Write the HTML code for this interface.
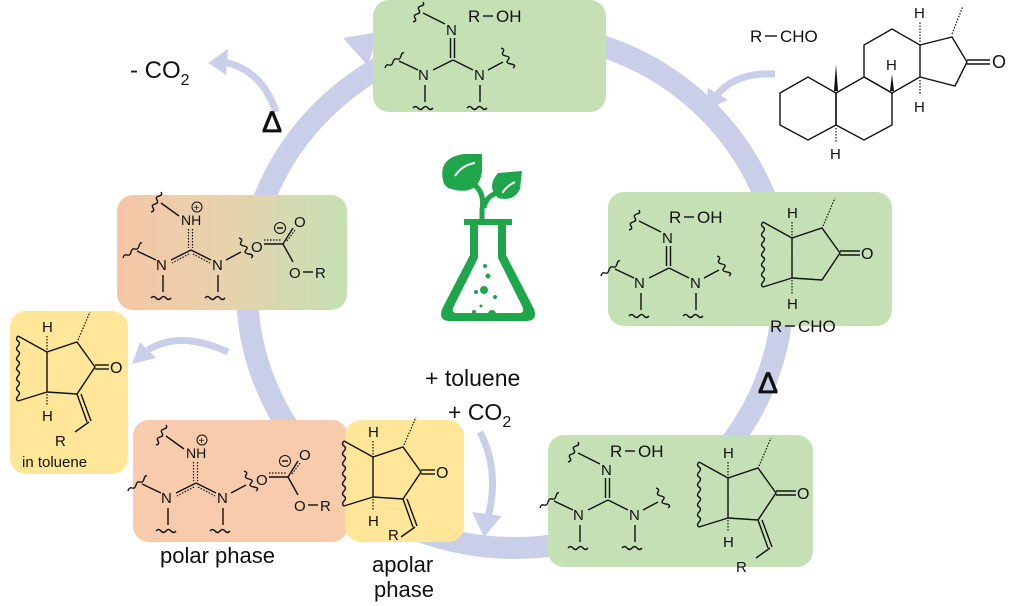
<!DOCTYPE html>
<html><head><meta charset="utf-8"><style>
html,body{margin:0;padding:0;background:#fff;width:1024px;height:606px;overflow:hidden}
svg{display:block}
.t{font-family:"Liberation Sans",sans-serif;fill:#111}
.b{stroke:#111;stroke-width:1.4;fill:none}
.h{stroke:#111;stroke-width:1.2;fill:none;stroke-dasharray:1.5 1.5}
</style></head><body>
<svg width="1024" height="606" viewBox="0 0 1024 606" xmlns="http://www.w3.org/2000/svg">
<defs>
<linearGradient id="og" x1="0" x2="1" y1="0" y2="0">
<stop offset="0" stop-color="#f5c6a6"/><stop offset="0.5" stop-color="#e6d3ad"/><stop offset="1" stop-color="#c5e0b4"/>
</linearGradient>
</defs>
<!-- ring -->
<ellipse cx="515" cy="290" rx="268" ry="258" fill="none" stroke="#c9cfe8" stroke-width="22"/>
<polygon points="343,38 378,32 368,66" fill="#c9cfe8"/>

<!-- small arrows -->
<path d="M276,112 Q262,70 224,62" fill="none" stroke="#c9cfe8" stroke-width="7"/>
<polygon points="208,63 228,49 226,75" fill="#c9cfe8"/>
<path d="M775,74 Q735,72 716,96" fill="none" stroke="#c9cfe8" stroke-width="7"/>
<polygon points="706,110 708,88 728,100" fill="#c9cfe8"/>
<path d="M228,352 Q180,330 148,350" fill="none" stroke="#c9cfe8" stroke-width="7"/>
<polygon points="132,364 140,342 156,358" fill="#c9cfe8"/>
<path d="M480,432 Q500,470 488,518" fill="none" stroke="#c9cfe8" stroke-width="7"/>
<polygon points="484,537 472,512 502,516" fill="#c9cfe8"/>

<!-- boxes -->
<rect x="373" y="0" width="233" height="112" rx="16" fill="#c5e0b4"/>
<rect x="608" y="192" width="284" height="134" rx="16" fill="#c5e0b4"/>
<rect x="548" y="435" width="265" height="132" rx="16" fill="#c5e0b4"/>
<rect x="117" y="195" width="230" height="115" rx="16" fill="url(#og)"/>
<rect x="10" y="311" width="118" height="163" rx="16" fill="#ffe699"/>
<rect x="133" y="420" width="215" height="122" rx="16" fill="#f8cbad"/>
<rect x="345" y="420" width="119" height="122" rx="16" fill="#ffe699"/>

<!-- neutral guanidine: top box -->
<g transform="translate(373,0)">
<text class="t" x="95" y="22" font-size="17">R</text><line class="b" x1="110" y1="16" x2="120" y2="16"/><text class="t" x="123" y="22" font-size="17">OH</text>
<path class="b" d="M40,22 q4,-1 2,-4 t2,-4 t2,-4 t2,-4 t2,-4"/><line class="b" x1="50" y1="13" x2="72" y2="24"/>
<text class="t" x="73" y="35" font-size="15">N</text>
<line class="b" x1="77.5" y1="38" x2="77.5" y2="58"/><line class="b" x1="81.5" y1="38" x2="81.5" y2="58"/>
<line class="b" x1="80" y1="60" x2="60" y2="70"/><line class="b" x1="80" y1="60" x2="100" y2="70"/>
<text class="t" x="45" y="80" font-size="15">N</text><text class="t" x="101" y="80" font-size="15">N</text>
<line class="b" x1="45" y1="70" x2="26" y2="61"/><path class="b" d="M12,68 q1,-4 4,-3 t4,-3 t4,-3 t4,-3 t3,-3"/>
<line class="b" x1="115" y1="70" x2="130" y2="62"/><path class="b" d="M128,48 q4,1 2,4 t3,4 t2,4 t3,4 t2,4"/>
<line class="b" x1="52" y1="85" x2="52" y2="102"/><line class="b" x1="107" y1="85" x2="107" y2="102"/>
<path class="b" d="M40,108 q2.5,-3 5,0 t5,0 t5,0 t5,0"/><path class="b" d="M94,108 q2.5,-3 5,0 t5,0 t5,0 t5,0"/>
</g>
<!-- right box -->
<g transform="translate(589,208)">
<text class="t" x="80" y="15" font-size="17">R</text><line class="b" x1="95" y1="9" x2="105" y2="9"/><text class="t" x="108" y="15" font-size="17">OH</text>
<path class="b" d="M40,22 q4,-1 2,-4 t2,-4 t2,-4 t2,-4 t2,-4"/><line class="b" x1="50" y1="13" x2="72" y2="24"/>
<text class="t" x="73" y="35" font-size="15">N</text>
<line class="b" x1="77.5" y1="38" x2="77.5" y2="58"/><line class="b" x1="81.5" y1="38" x2="81.5" y2="58"/>
<line class="b" x1="80" y1="60" x2="60" y2="70"/><line class="b" x1="80" y1="60" x2="100" y2="70"/>
<text class="t" x="45" y="80" font-size="15">N</text><text class="t" x="101" y="80" font-size="15">N</text>
<line class="b" x1="45" y1="70" x2="26" y2="61"/><path class="b" d="M12,68 q1,-4 4,-3 t4,-3 t4,-3 t4,-3 t3,-3"/>
<line class="b" x1="115" y1="70" x2="130" y2="62"/><path class="b" d="M128,48 q4,1 2,4 t3,4 t2,4 t3,4 t2,4"/>
<line class="b" x1="52" y1="85" x2="52" y2="102"/><line class="b" x1="107" y1="85" x2="107" y2="102"/>
<path class="b" d="M40,108 q2.5,-3 5,0 t5,0 t5,0 t5,0"/><path class="b" d="M94,108 q2.5,-3 5,0 t5,0 t5,0 t5,0"/>
</g>
<!-- bottom right box -->
<g transform="translate(528,440)">
<text class="t" x="82" y="17" font-size="17">R</text><line class="b" x1="97" y1="11" x2="107" y2="11"/><text class="t" x="110" y="17" font-size="17">OH</text>
<path class="b" d="M40,22 q4,-1 2,-4 t2,-4 t2,-4 t2,-4 t2,-4"/><line class="b" x1="50" y1="13" x2="72" y2="24"/>
<text class="t" x="73" y="35" font-size="15">N</text>
<line class="b" x1="77.5" y1="38" x2="77.5" y2="58"/><line class="b" x1="81.5" y1="38" x2="81.5" y2="58"/>
<line class="b" x1="80" y1="60" x2="60" y2="70"/><line class="b" x1="80" y1="60" x2="100" y2="70"/>
<text class="t" x="45" y="80" font-size="15">N</text><text class="t" x="101" y="80" font-size="15">N</text>
<line class="b" x1="45" y1="70" x2="26" y2="61"/><path class="b" d="M12,68 q1,-4 4,-3 t4,-3 t4,-3 t4,-3 t3,-3"/>
<line class="b" x1="115" y1="70" x2="130" y2="62"/><path class="b" d="M128,48 q4,1 2,4 t3,4 t2,4 t3,4 t2,4"/>
<line class="b" x1="52" y1="85" x2="52" y2="102"/><line class="b" x1="107" y1="85" x2="107" y2="102"/>
<path class="b" d="M40,108 q2.5,-3 5,0 t5,0 t5,0 t5,0"/><path class="b" d="M94,108 q2.5,-3 5,0 t5,0 t5,0 t5,0"/>
</g>

<!-- charged guanidinium + carbonate (gradient box) -->
<g transform="translate(111,190)">
<circle cx="86" cy="17" r="5" fill="none" stroke="#111" stroke-width="1"/><text class="t" x="82.5" y="21" font-size="10">+</text>
<path class="b" d="M40,22 q4,-1 2,-4 t2,-4 t2,-4 t2,-4 t2,-4"/><line class="b" x1="50" y1="13" x2="68" y2="26"/>
<text class="t" x="70" y="35" font-size="14">NH</text>
<line class="h" x1="77.5" y1="39" x2="77.5" y2="58"/><line class="h" x1="81.5" y1="39" x2="81.5" y2="58"/>
<line class="b" x1="80" y1="60" x2="60" y2="70"/><line class="b" x1="80" y1="60" x2="100" y2="70"/>
<line class="h" x1="78" y1="64" x2="61" y2="73"/><line class="h" x1="82" y1="64" x2="99" y2="73"/>
<text class="t" x="45" y="80" font-size="15">N</text><text class="t" x="101" y="80" font-size="15">N</text>
<line class="b" x1="45" y1="70" x2="26" y2="61"/><path class="b" d="M12,68 q1,-4 4,-3 t4,-3 t4,-3 t4,-3 t3,-3"/>
<line class="b" x1="115" y1="70" x2="130" y2="62"/><path class="b" d="M128,48 q4,1 2,4 t3,4 t2,4 t3,4 t2,4"/>
<line class="b" x1="52" y1="85" x2="52" y2="102"/><line class="b" x1="107" y1="85" x2="107" y2="102"/>
<path class="b" d="M40,108 q2.5,-3 5,0 t5,0 t5,0 t5,0"/><path class="b" d="M94,108 q2.5,-3 5,0 t5,0 t5,0 t5,0"/>
<text class="t" x="140" y="62" font-size="15">O</text>
<line class="b" x1="153" y1="54" x2="172" y2="54"/><line class="h" x1="153" y1="50" x2="170" y2="50"/>
<line class="b" x1="172" y1="54" x2="182" y2="38"/><line class="h" x1="176" y1="51" x2="184" y2="40"/>
<text class="t" x="183" y="37" font-size="15">O</text>
<circle cx="169" cy="38" r="5.5" fill="none" stroke="#111" stroke-width="1"/><line class="b" x1="166" y1="38" x2="172" y2="38"/>
<line class="b" x1="172" y1="54" x2="182" y2="72"/>
<text class="t" x="178" y="88" font-size="15">O</text><line class="b" x1="192" y1="82" x2="202" y2="82"/><text class="t" x="204" y="88" font-size="15">R</text>
</g>
<!-- bottom orange -->
<g transform="translate(116,423)">
<circle cx="86" cy="17" r="5" fill="none" stroke="#111" stroke-width="1"/><text class="t" x="82.5" y="21" font-size="10">+</text>
<path class="b" d="M40,22 q4,-1 2,-4 t2,-4 t2,-4 t2,-4 t2,-4"/><line class="b" x1="50" y1="13" x2="68" y2="26"/>
<text class="t" x="70" y="35" font-size="14">NH</text>
<line class="h" x1="77.5" y1="39" x2="77.5" y2="58"/><line class="h" x1="81.5" y1="39" x2="81.5" y2="58"/>
<line class="b" x1="80" y1="60" x2="60" y2="70"/><line class="b" x1="80" y1="60" x2="100" y2="70"/>
<line class="h" x1="78" y1="64" x2="61" y2="73"/><line class="h" x1="82" y1="64" x2="99" y2="73"/>
<text class="t" x="45" y="80" font-size="15">N</text><text class="t" x="101" y="80" font-size="15">N</text>
<line class="b" x1="45" y1="70" x2="26" y2="61"/><path class="b" d="M12,68 q1,-4 4,-3 t4,-3 t4,-3 t4,-3 t3,-3"/>
<line class="b" x1="115" y1="70" x2="130" y2="62"/><path class="b" d="M128,48 q4,1 2,4 t3,4 t2,4 t3,4 t2,4"/>
<line class="b" x1="52" y1="85" x2="52" y2="102"/><line class="b" x1="107" y1="85" x2="107" y2="102"/>
<path class="b" d="M40,108 q2.5,-3 5,0 t5,0 t5,0 t5,0"/><path class="b" d="M94,108 q2.5,-3 5,0 t5,0 t5,0 t5,0"/>
<text class="t" x="140" y="62" font-size="15">O</text>
<line class="b" x1="153" y1="54" x2="172" y2="54"/><line class="h" x1="153" y1="50" x2="170" y2="50"/>
<line class="b" x1="172" y1="54" x2="182" y2="38"/><line class="h" x1="176" y1="51" x2="184" y2="40"/>
<text class="t" x="183" y="37" font-size="15">O</text>
<circle cx="169" cy="38" r="5.5" fill="none" stroke="#111" stroke-width="1"/><line class="b" x1="166" y1="38" x2="172" y2="38"/>
<line class="b" x1="172" y1="54" x2="182" y2="72"/>
<text class="t" x="178" y="88" font-size="15">O</text><line class="b" x1="192" y1="82" x2="202" y2="82"/><text class="t" x="204" y="88" font-size="15">R</text>
</g>

<!-- ketone fragments: right box -->
<g transform="translate(792,238)">
<text class="t" x="-5" y="-20" font-size="15">H</text><line class="h" x1="0" y1="-16" x2="0" y2="-2" stroke-width="3"/>
<path class="b" d="M-29,-16 q-3,3 0,5 t0,5 t0,5 t0,5 t0,5 t0,5 t0,5 t0,5 t0,5 t0,5 t0,5 t0,5 t0,5"/>
<line class="b" x1="-29" y1="-16" x2="0" y2="0"/><line class="b" x1="-29" y1="49" x2="0" y2="40"/>
<polyline class="b" points="0,40 0,0 30,-10 48,15 30,42 0,40"/>
<line class="b" x1="48" y1="13" x2="68" y2="13"/><line class="b" x1="48" y1="17" x2="68" y2="17"/>
<text class="t" x="69" y="21" font-size="16">O</text>
<line class="h" x1="31" y1="-12" x2="43" y2="-40" stroke-width="3"/>
<line class="h" x1="0" y1="42" x2="0" y2="56" stroke-width="3"/><text class="t" x="-5" y="71" font-size="15">H</text>
<text class="t" x="-22" y="94" font-size="17">R</text><line class="b" x1="-7" y1="88" x2="3" y2="88"/><text class="t" x="6" y="94" font-size="17">CHO</text>
</g>
<!-- bottom right ketone -->
<g transform="translate(728,478)">
<text class="t" x="-5" y="-20" font-size="15">H</text><line class="h" x1="0" y1="-16" x2="0" y2="-2" stroke-width="3"/>
<path class="b" d="M-29,-16 q-3,3 0,5 t0,5 t0,5 t0,5 t0,5 t0,5 t0,5 t0,5 t0,5 t0,5 t0,5 t0,5 t0,5"/>
<line class="b" x1="-29" y1="-16" x2="0" y2="0"/><line class="b" x1="-29" y1="49" x2="0" y2="40"/>
<polyline class="b" points="0,40 0,0 30,-10 48,15 30,42 0,40"/>
<line class="b" x1="48" y1="13" x2="68" y2="13"/><line class="b" x1="48" y1="17" x2="68" y2="17"/>
<text class="t" x="69" y="21" font-size="16">O</text>
<line class="h" x1="31" y1="-12" x2="43" y2="-40" stroke-width="3"/>
<line class="h" x1="0" y1="42" x2="0" y2="54" stroke-width="3"/><text class="t" x="-5" y="69" font-size="15">H</text>
<line class="b" x1="30" y1="42" x2="40" y2="70"/><line class="b" x1="34" y1="42" x2="44" y2="69"/>
<line class="b" x1="42" y1="70" x2="28" y2="80"/><text class="t" x="8" y="94" font-size="15">R</text>
</g>
<!-- in toluene -->
<g transform="translate(47,352)">
<text class="t" x="-5" y="-20" font-size="15">H</text><line class="h" x1="0" y1="-16" x2="0" y2="-2" stroke-width="3"/>
<path class="b" d="M-29,-16 q-3,3 0,5 t0,5 t0,5 t0,5 t0,5 t0,5 t0,5 t0,5 t0,5 t0,5 t0,5 t0,5 t0,5"/>
<line class="b" x1="-29" y1="-16" x2="0" y2="0"/><line class="b" x1="-29" y1="49" x2="0" y2="40"/>
<polyline class="b" points="0,40 0,0 30,-10 48,15 30,42 0,40"/>
<line class="b" x1="48" y1="13" x2="62" y2="13"/><line class="b" x1="48" y1="17" x2="62" y2="17"/>
<text class="t" x="63" y="21" font-size="16">O</text>
<line class="h" x1="31" y1="-12" x2="43" y2="-40" stroke-width="3"/>
<line class="h" x1="0" y1="42" x2="0" y2="54" stroke-width="3"/><text class="t" x="-5" y="69" font-size="15">H</text>
<line class="b" x1="30" y1="42" x2="40" y2="70"/><line class="b" x1="34" y1="42" x2="44" y2="69"/>
<line class="b" x1="42" y1="70" x2="28" y2="80"/><text class="t" x="8" y="94" font-size="15">R</text>
<text class="t" x="-25" y="115" font-size="15">in toluene</text>
</g>
<!-- apolar -->
<g transform="translate(373,457)">
<text class="t" x="-5" y="-20" font-size="15">H</text><line class="h" x1="0" y1="-16" x2="0" y2="-2" stroke-width="3"/>
<path class="b" d="M-29,-16 q-3,3 0,5 t0,5 t0,5 t0,5 t0,5 t0,5 t0,5 t0,5 t0,5 t0,5 t0,5 t0,5 t0,5"/>
<line class="b" x1="-29" y1="-16" x2="0" y2="0"/><line class="b" x1="-29" y1="49" x2="0" y2="40"/>
<polyline class="b" points="0,40 0,0 30,-10 48,15 30,42 0,40"/>
<line class="b" x1="48" y1="13" x2="62" y2="13"/><line class="b" x1="48" y1="17" x2="62" y2="17"/>
<text class="t" x="63" y="21" font-size="16">O</text>
<line class="h" x1="31" y1="-12" x2="43" y2="-40" stroke-width="3"/>
<line class="h" x1="0" y1="42" x2="0" y2="54" stroke-width="3"/><text class="t" x="-5" y="69" font-size="15">H</text>
<line class="b" x1="30" y1="42" x2="40" y2="70"/><line class="b" x1="34" y1="42" x2="44" y2="69"/>
<line class="b" x1="42" y1="70" x2="28" y2="80"/><text class="t" x="15" y="83" font-size="15">R</text>
</g>

<!-- steroid -->
<g>
<text class="t" x="750" y="42" font-size="17">R</text><line class="b" x1="765" y1="36" x2="777" y2="36"/><text class="t" x="780" y="42" font-size="17">CHO</text>
<polygon class="b" points="780,93 808,77 836,93 836,125 808,140 780,125"/>
<polygon class="b" points="836,93 864,77 892,93 892,125 864,140 836,125"/>
<polygon class="b" points="864,77 864,45 892,29 920,45 920,77 892,93"/>
<polyline class="b" points="920,45 952,37 967,62 955,86 920,77"/>
<line class="b" x1="967" y1="60" x2="990" y2="60"/><line class="b" x1="967" y1="64" x2="990" y2="64"/>
<text class="t" x="992" y="68" font-size="18">O</text>
<polygon points="834,91 838,91 836,64" fill="#111"/>
<polygon points="890,91 894,91 892,74" fill="#111"/><text class="t" x="886" y="70" font-size="15">H</text>
<line class="h" x1="920" y1="42" x2="920" y2="22" stroke-width="3"/><text class="t" x="914" y="18" font-size="15">H</text>
<line class="h" x1="920" y1="80" x2="920" y2="95" stroke-width="3"/><text class="t" x="914" y="112" font-size="15">H</text>
<line class="h" x1="836" y1="128" x2="836" y2="142" stroke-width="3"/><text class="t" x="830" y="159" font-size="15">H</text>
<line class="h" x1="952" y1="34" x2="963" y2="6" stroke-width="3"/>
</g>

<!-- flask icon -->
<g fill="#1fa64a">
<path d="M444,184 q-8,-26 20,-30 l18,0 l0,18 q-4,26 -34,16 z" />
<path d="M455,176 q7,-11 20,-13" stroke="#fff" stroke-width="2" fill="none"/>
<path d="M498,198 q-12,-11 0,-25 l24,-2 l-2,18 q-6,13 -22,9 z"/>
<path d="M502,193 q6,-8 13,-11" stroke="#fff" stroke-width="2" fill="none"/>
<path d="M466,180 q20,8 16,30 l0,10" stroke="#1fa64a" stroke-width="5" fill="none"/>
<path d="M502,192 q-16,2 -18,16" stroke="#1fa64a" stroke-width="5" fill="none"/>
<path d="M464,219 l48,0 0,6 -6,0 0,30 28,54 q4,12 -8,12 l-76,0 q-12,0 -8,-12 l28,-54 0,-30 -6,0 z"/>
<path d="M478,225 l20,0 0,33 25,50 q1,5 -3,5 l-64,0 q-4,0 -3,-5 l25,-50 z" fill="#fff"/>
<circle cx="485" cy="266" r="2"/><circle cx="488" cy="276" r="2.5"/><circle cx="484" cy="290" r="4"/>
<circle cx="476" cy="292" r="2"/><circle cx="495" cy="297" r="2"/><circle cx="492" cy="314" r="4"/><circle cx="481" cy="306" r="1.5"/><circle cx="474" cy="312" r="2"/>
</g>

<!-- labels -->
<text class="t" x="130" y="78" font-size="24">- CO<tspan font-size="16" dy="7">2</tspan></text>
<text class="t" x="262" y="132" font-size="30" stroke="#111" stroke-width="0.8">Δ</text>
<text class="t" x="758" y="393" font-size="30" stroke="#111" stroke-width="0.8">Δ</text>
<text class="t" x="425" y="386" font-size="23">+ toluene</text>
<text class="t" x="448" y="420" font-size="23">+ CO<tspan font-size="16" dy="7">2</tspan></text>
<text class="t" x="160" y="563" font-size="22">polar phase</text>
<text class="t" x="372" y="572" font-size="22">apolar</text>
<text class="t" x="374" y="597" font-size="22">phase</text>
</svg>
</body></html>
